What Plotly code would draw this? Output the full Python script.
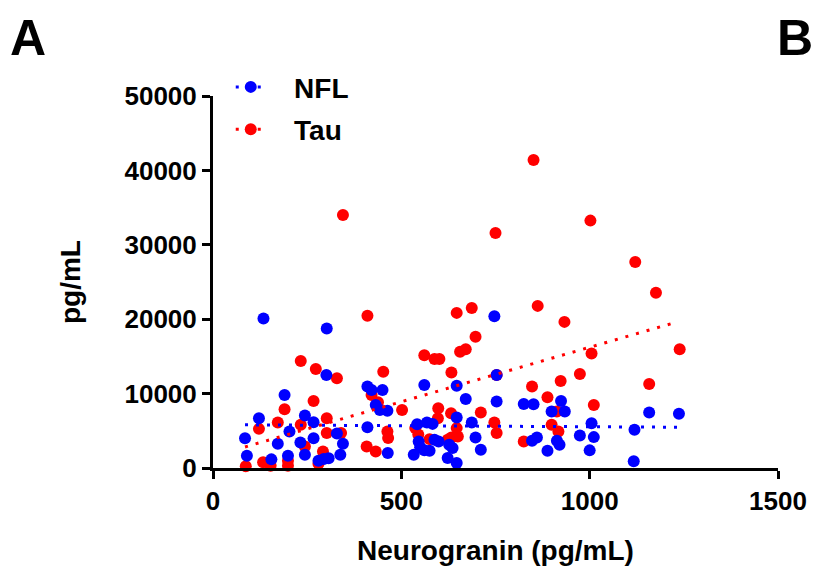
import plotly.graph_objects as go

# ---- data ----
nfl_x = [134, 302, 301, 190, 122, 244, 267, 203, 85, 172, 232, 267, 329, 345, 90, 155, 199, 244, 280, 294,
         307, 338, 410, 421, 450, 432, 443, 463, 410, 464, 747, 561, 647, 753, 671, 753, 825, 851, 899, 934,
         924, 647, 687, 542, 568, 583, 546, 588, 599, 627, 636, 697, 711, 533, 561, 575, 623, 647, 847, 860,
         888, 913, 920, 1158, 1237, 1005, 1119, 974, 1011, 1000, 1117, 550]
nfl_y = [20100, 18750, 12500, 9800, 6700, 7050, 6160, 4900, 4000, 3260, 3440, 4000, 4640, 3260, 1650, 1160,
         1650, 1780, 980, 1200, 1300, 1780, 10940, 10490, 10490, 8480, 7810, 7680, 5490, 2010, 20400, 11150,
         11070, 12490, 9280, 8930, 8610, 8570, 7590, 7590, 9010, 6790, 6120, 5890, 6120, 5930, 3570, 3790,
         3570, 3120, 2680, 4110, 2450, 1780, 2370, 2320, 1340, 670, 3660, 4110, 2320, 3660, 3120, 7460, 7280,
         6030, 5130, 4380, 4150, 2370, 900, 2800]

tau_x = [410, 233, 273, 329, 452, 267, 190, 172, 122, 233, 302, 302, 340, 421, 438, 463, 465, 408, 432, 244,
         87, 133, 153, 199, 199, 280, 292, 345, 750, 851, 1002, 1121, 1176, 647, 687, 862, 933, 697, 656, 671,
         561, 588, 601, 633, 847, 923, 888, 753, 502, 598, 632, 711, 747, 753, 537, 597, 647, 650, 575, 623,
         633, 825, 899, 917, 913, 1239, 1005, 974, 1158, 1011, 545]
tau_y = [20450, 14370, 13300, 12050, 12950, 9010, 7900, 6120, 5260, 5800, 6700, 4690, 4690, 9810, 8840, 4910,
         4020, 2900, 2230, 2900, 230, 760, 310, 980, 310, 580, 2230, 34000, 31600, 41400, 33250, 27680, 23570,
         20850, 21520, 21790, 19640, 17630, 15620, 15970, 15170, 14640, 14640, 12850, 10940, 11690, 9500,
         12490, 7810, 8030, 7360, 7460, 6120, 4690, 5360, 6700, 5360, 4240, 3880, 3790, 4110, 3570, 5800,
         4910, 7590, 15970, 15400, 12630, 11290, 8480, 4500]

# regression lines (end points)
nfl_fit_x = [85, 1235]
nfl_fit_y = [5800, 5480]
tau_fit_x = [85, 1220]
tau_fit_y = [2830, 19450]

x_ticks = [0, 500, 1000, 1500]
y_ticks = [0, 10000, 20000, 30000, 40000, 50000]

BLUE = "#0000FF"
RED = "#FF0000"
FONT = "Liberation Sans, Arial, sans-serif"
DASH = "3px,8px"
MS = 12
NB = "&nbsp;" * 3

fig = go.Figure()
fig.add_trace(go.Scatter(x=tau_x, y=tau_y, mode="markers", marker=dict(color=RED, size=MS),
                         showlegend=False, cliponaxis=False))
fig.add_trace(go.Scatter(x=nfl_x, y=nfl_y, mode="markers", marker=dict(color=BLUE, size=MS),
                         showlegend=False, cliponaxis=False))
fig.add_trace(go.Scatter(x=nfl_fit_x, y=nfl_fit_y, mode="lines", line=dict(color=BLUE, width=3, dash=DASH),
                         showlegend=False))
fig.add_trace(go.Scatter(x=tau_fit_x, y=tau_fit_y, mode="lines", line=dict(color=RED, width=3, dash=DASH),
                         showlegend=False))
# legend entries
fig.add_trace(go.Scatter(x=[None], y=[None], mode="lines+markers", name=NB + "<b>NFL</b>", legendgroup="a",
                         marker=dict(color=BLUE, size=MS), line=dict(color=BLUE, width=3, dash=DASH)))
fig.add_trace(go.Scatter(x=[None], y=[None], mode="lines+markers", name=NB + "<b>Tau</b>", legendgroup="b",
                         marker=dict(color=RED, size=MS), line=dict(color=RED, width=3, dash=DASH)))

axis_common = dict(showline=True, linewidth=3, linecolor="black", ticks="outside", ticklen=8,
                   tickwidth=3, tickcolor="black", showgrid=False, zeroline=False,
                   tickfont=dict(family=FONT, size=26, color="black"))

PW = 819 - 213 - 33

fig.update_layout(
    width=819, height=574,
    margin=dict(l=213, r=33, t=96, b=104),
    paper_bgcolor="white", plot_bgcolor="white",
    font=dict(family=FONT, color="black"),
    xaxis=dict(range=[0, 1500], tickvals=x_ticks, ticktext=[f"<b>{v}</b>" for v in x_ticks],
               title=dict(text="<b>Neurogranin (pg/mL)</b>", font=dict(family=FONT, size=28), standoff=26),
               **axis_common),
    yaxis=dict(range=[0, 50000], tickvals=y_ticks, ticktext=[f"<b>{v}</b>" for v in y_ticks],
               title=dict(text="<b>pg/mL</b>", font=dict(family=FONT, size=28), standoff=36),
               **axis_common),
    legend=dict(x=(231 - 213) / PW, y=1 + (96 - 62) / 374, xanchor="left", yanchor="top",
                font=dict(family=FONT, size=28, color="black"), itemwidth=30,
                tracegroupgap=3, traceorder="grouped", bgcolor="rgba(0,0,0,0)"),
    annotations=[
        dict(text="<b>A</b>", xref="paper", yref="paper", x=(5 - 213) / PW, y=(470 - 38) / 374,
             xanchor="left", yanchor="middle", showarrow=False, font=dict(family=FONT, size=50)),
        dict(text="<b>B</b>", xref="paper", yref="paper", x=(783 - 213) / PW, y=(470 - 38) / 374,
             xanchor="left", yanchor="middle", showarrow=False, font=dict(family=FONT, size=50)),
    ],
)

fig.write_html("out.html", config={"displayModeBar": False},
               post_script="document.body.style.margin='0';document.body.style.overflow='hidden';")
